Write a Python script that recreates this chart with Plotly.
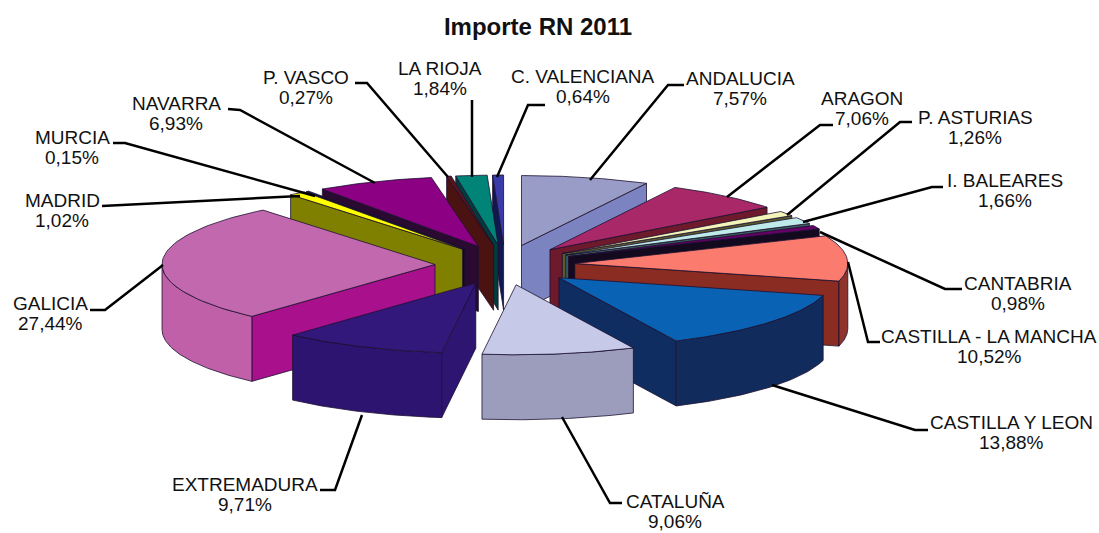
import numpy as np
import plotly.graph_objects as go

categories = ["ANDALUCIA", "ARAGON", "P. ASTURIAS", "I. BALEARES", "CANTABRIA",
              "CASTILLA - LA MANCHA", "CASTILLA Y LEON", "CATALUÑA", "EXTREMADURA",
              "GALICIA", "MADRID", "MURCIA", "NAVARRA", "P. VASCO", "LA RIOJA",
              "C. VALENCIANA"]
shares = [7.57, 7.06, 1.26, 1.66, 0.98, 10.52, 13.88, 9.06, 9.71, 27.44, 1.02, 0.15,
          6.93, 0.27, 1.84, 0.64]

top_colors = ["#9a9cc8", "#a82868", "#f4f4b8", "#bfeaea", "#660066", "#fb7c6e", "#0a62b4",
              "#c6c9e8", "#33187c", "#c268ae", "#ffff00", "#14104a", "#8c0084", "#5c1420",
              "#008478", "#3a3aa8"]
face_colors = ["#7b84c0", "#6c1a2c", "#5a5a30", "#3a6060", "#140a20", "#8a2c22", "#0f2d60",
               "#9c9cbc", "#2e1572", "#a8108c", "#808000", "#100820", "#2a0a30", "#4a1210",
               "#003c3c", "#101850"]
rim_colors = ["#9a9cc8", "#a82868", "#f4f4b8", "#bfeaea", "#660066", "#8e342c", "#112c5c",
              "#9c9dbc", "#2c1470", "#c060a8", "#808000", "#100820", "#8c0084", "#5c1420",
              "#008478", "#3a3aa8"]

# label centre (x, y of the name line); leader polyline points in page pixels
label_pos = [(740, 78), (862, 98), (975, 117), (1005, 180), (1018, 283), (989, 336),
             (1011, 422), (675, 501), (245, 484), (50, 303), (62, 200), (72, 137),
             (176, 103), (306, 77), (440, 68), (583, 76)]
leader_mid = [(668, 85), (820, 125), (900, 122), (932, 187), (945, 289), (868, 342),
              (915, 430), (610, 503), (335, 490), (105, 310), (110, 206), (125, 143),
              (240, 110), (367, 83), (472, 108), (528, 105)]
leader_end = [(684, 85), (833, 125), (912, 122), (943, 187), (962, 289), (880, 342),
              (928, 430), (622, 503), (320, 490), (90, 310), (102, 206), (113, 143),
              (228, 109), (355, 83), (472, 100), (545, 105)]
leader_start = [(590, 180), (727, 197), (787, 215), (803, 222), (820, 232), (848, 262),
                (772, 385), (562, 417), (362, 415), (163, 265), (300, 196), (315, 196),
                (375, 183), (448, 177), (472, 177), (497, 177)]

CX, CY, RX, RY, EX, EY, DEPTH = 505, 265, 273, 70, 70, 20, 65
EDGE = "#1c1030"

values = np.array(shares)
cum = np.concatenate([[0], np.cumsum(values)]) / values.sum() * 2 * np.pi

fig = go.Figure()


def poly(xs, ys, color, name):
    fig.add_trace(go.Scatter(x=list(xs), y=list(ys), mode="lines", fill="toself",
                             fillcolor=color, line=dict(color=EDGE, width=0.8),
                             showlegend=False, hoverinfo="text", text=name))


order = sorted(range(len(values)), key=lambda i: -np.cos((cum[i] + cum[i + 1]) / 2))
for i in order:
    a, b = cum[i], cum[i + 1]
    mid = (a + b) / 2
    ax, ay = CX + EX * np.sin(mid), CY - EY * np.cos(mid)
    th = np.linspace(a, b, 60)
    rx, ry = ax + RX * np.sin(th), ay - RY * np.cos(th)
    name = categories[i]
    # radial cut faces that look towards the viewer
    if np.sin(a) < 0:
        ex, ey = ax + RX * np.sin(a), ay - RY * np.cos(a)
        poly([ax, ex, ex, ax, ax], [ay, ey, ey + DEPTH, ay + DEPTH, ay], face_colors[i], name)
    if np.sin(b) > 0:
        ex, ey = ax + RX * np.sin(b), ay - RY * np.cos(b)
        poly([ax, ex, ex, ax, ax], [ay, ey, ey + DEPTH, ay + DEPTH, ay], face_colors[i], name)
    # outer wall: the part of the rim facing the viewer
    lo, hi = max(a, np.pi / 2), min(b, 3 * np.pi / 2)
    if hi > lo:
        tw = np.linspace(lo, hi, 60)
        wx, wy = ax + RX * np.sin(tw), ay - RY * np.cos(tw)
        poly(np.r_[wx, wx[::-1], wx[0]], np.r_[wy, wy[::-1] + DEPTH, wy[0]], rim_colors[i], name)
    # top surface
    poly(np.r_[ax, rx, ax], np.r_[ay, ry, ay], top_colors[i], name)

LABEL_FONT = dict(family="Liberation Sans", size=19, color="#111111")
for i, name in enumerate(categories):
    pts = [leader_start[i], leader_mid[i], leader_end[i]]
    fig.add_trace(go.Scatter(x=[p[0] for p in pts], y=[p[1] for p in pts], mode="lines",
                             line=dict(color="#000000", width=2.5), showlegend=False,
                             hoverinfo="skip"))
    pct = f"{shares[i]:.2f}".replace(".", ",") + "%"
    for text, dy in ((name, 0), (pct, 20)):
        fig.add_annotation(x=label_pos[i][0], y=label_pos[i][1] + dy, xref="x", yref="y",
                           text=text, showarrow=False, align="center", font=LABEL_FONT)

fig.update_layout(
    width=1099, height=533, margin=dict(l=0, r=0, t=0, b=0),
    paper_bgcolor="white", plot_bgcolor="white",
    title=dict(text="<b>Importe RN 2011</b>", x=538 / 1099, y=1 - 27 / 533,
               xanchor="center", yanchor="middle",
               font=dict(family="Liberation Sans", size=24, color="#111111")),
    xaxis=dict(range=[0, 1099], visible=False, fixedrange=True),
    yaxis=dict(range=[533, 0], visible=False, fixedrange=True),
)
fig.write_html("out.html", config=dict(displayModeBar=False),
               post_script="document.body.style.margin='0';document.body.style.overflow='hidden';")
